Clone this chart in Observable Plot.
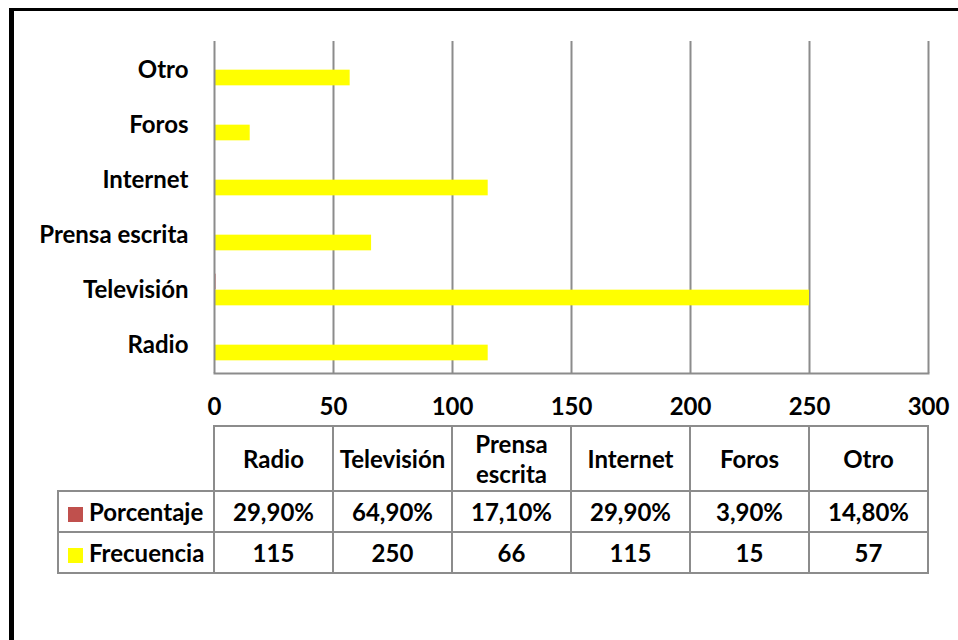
<!DOCTYPE html>
<html>
<head>
<meta charset="utf-8">
<script src="https://cdn.jsdelivr.net/npm/d3@7"></script>
<script src="https://cdn.jsdelivr.net/npm/@observablehq/plot@0.6"></script>
<style>
  html, body { margin: 0; padding: 0; background: #fff; }
  body { position: relative; width: 958px; height: 640px; overflow: hidden; font-family: Lato, "Open Sans", sans-serif; font-weight: 700; color: #000; }
  #marco { position: absolute; left: 9px; top: 8px; width: 2000px; height: 2000px; border-left: 5px solid #000; border-top: 3px solid #000; }
  #grafico { position: absolute; left: 0; top: 0; }
  #tabla { position: absolute; left: 57px; top: 425px; border-collapse: collapse; font-size: 24px; font-weight: 700; }
  #tabla td { border: 2px solid #8c8c8c; text-align: center; padding: 0; }
  #tabla td.vacia { border: none; }
  #tabla td.serie { text-align: left; padding-left: 9px; white-space: nowrap; }
  #tabla .muestra { display: inline-block; width: 15px; height: 15px; margin-right: 6px; vertical-align: -1px; }
  #tabla tr.cab td { height: 63px; line-height: 30px; }
  #tabla tr.fila td { height: 39px; line-height: 24px; }
</style>
</head>
<body>
<div id="marco"></div>
<div id="grafico"></div>
<table id="tabla"></table>
<script>
// Medios de comunicación: frecuencia y porcentaje
const categories = ["Radio", "Televisión", "Prensa escrita", "Internet", "Foros", "Otro"];
const frecuencia = [115, 250, 66, 115, 15, 57];
const porcentaje = [29.9, 64.9, 17.1, 29.9, 3.9, 14.8];
const series = ["Porcentaje", "Frecuencia"];
const seriesColors = ["#C0504D", "#FFFF00"];
const xTicks = [0, 50, 100, 150, 200, 250, 300];

const W = 958, H = 420;
const mTop = 41, mBottom = 47, mLeft = 214, mRight = 30;
const font = "Lato, 'Open Sans', sans-serif";
const fs = 24;

// Porcentaje is stored as a fraction, as in the spreadsheet
const rows = categories.flatMap((c, i) => [
  {cat: c, serie: series[0], value: porcentaje[i] / 100},
  {cat: c, serie: series[1], value: frecuencia[i]}
]);

// each band holds two bars side by side around its centre
const band = (H - mTop - mBottom) / categories.length;
const barH = 16;
const half = band / 2;

const plot = Plot.plot({
  width: W,
  height: H,
  marginTop: mTop,
  marginBottom: mBottom,
  marginLeft: mLeft,
  marginRight: mRight,
  style: {fontFamily: font, fontWeight: 700, color: "#000", background: "transparent"},
  x: {domain: [0, 300], axis: null},
  y: {domain: categories.slice().reverse(), padding: 0, axis: null},
  color: {domain: series, range: seriesColors},
  marks: [
    Plot.ruleX(xTicks.filter(d => d > 0), {stroke: "#8c8c8c", strokeWidth: 2}),
    Plot.frame({anchor: "bottom", stroke: "#8c8c8c", strokeWidth: 2}),
    Plot.barX(rows.filter(d => d.serie === series[0]), {
      x: "value", y: "cat", fill: "serie",
      insetTop: half - barH, insetBottom: half
    }),
    Plot.barX(rows.filter(d => d.serie === series[1]), {
      x: "value", y: "cat", fill: "serie",
      insetTop: half, insetBottom: half - barH
    }),
    Plot.ruleX([0], {stroke: "#8c8c8c", strokeWidth: 2}),
    Plot.axisY({tickSize: 0, tickPadding: 26, fontSize: fs, fontWeight: 700, label: null}),
    Plot.axisX({ticks: xTicks, tickSize: 0, tickPadding: 24, fontSize: fs, fontWeight: 700, label: null, tickFormat: d => String(d)})
  ]
});
document.getElementById("grafico").appendChild(plot);

// Data table under the chart, columns aligned to the x scale
const x = plot.scale("x");
const color = plot.scale("color");
const colW = x.apply(xTicks[1]) - x.apply(xTicks[0]);
const firstW = x.apply(0) - 57;
const fmtPct = v => v.toFixed(2).replace(".", ",") + "%";

const tabla = d3.select("#tabla");
const cab = tabla.append("tr").attr("class", "cab");
cab.append("td").attr("class", "vacia").style("width", (firstW - 2) + "px");
categories.forEach(c => {
  cab.append("td").style("width", (colW - 2) + "px").html(c === "Prensa escrita" ? "Prensa<br>escrita" : c);
});

const valores = {Porcentaje: porcentaje.map(fmtPct), Frecuencia: frecuencia.map(String)};
series.forEach(s => {
  const tr = tabla.append("tr").attr("class", "fila");
  const td = tr.append("td").attr("class", "serie");
  td.append("span").attr("class", "muestra").style("background", color.apply(s));
  td.append("span").text(s);
  valores[s].forEach(v => tr.append("td").text(v));
});
</script>
</body>
</html>
